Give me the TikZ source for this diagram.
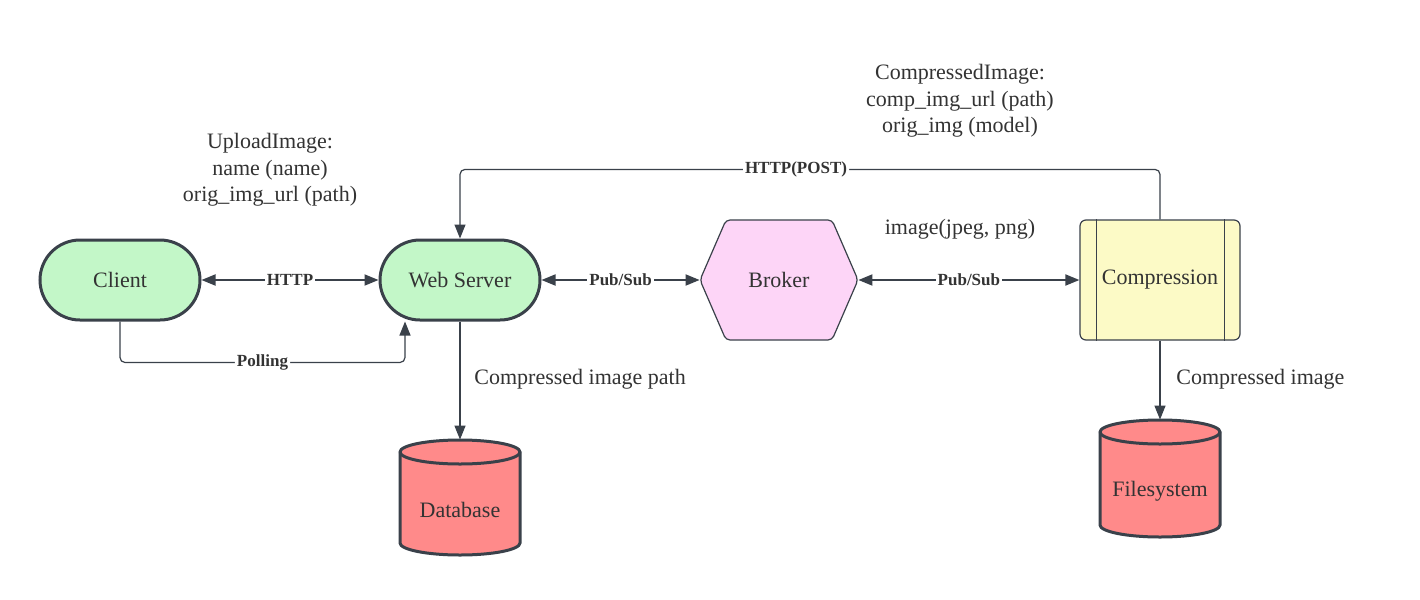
\documentclass[tikz,border=0pt]{standalone}
\usepackage{fontspec}
\setmainfont{Liberation Serif}
\usetikzlibrary{arrows.meta}
\definecolor{ink}{HTML}{3A414A}
\definecolor{txt}{HTML}{333333}
\definecolor{gfill}{HTML}{C3F7C8}
\definecolor{pfill}{HTML}{FDD5F7}
\definecolor{yfill}{HTML}{FCFAC6}
\definecolor{rfill}{HTML}{FF8A8A}
\begin{document}
\begin{tikzpicture}[x=0.5pt,y=-0.5pt,
  txtfont/.style={font=\fontsize{11}{13.25}\selectfont, text=txt},
  stadium/.style={draw=ink, line width=1.5pt, fill=gfill, rounded corners=20pt, minimum width=80pt, minimum height=40pt, txtfont},
  procbox/.style={draw=ink, line width=0.6pt, fill=yfill, rounded corners=3pt, minimum width=80pt, minimum height=60pt, txtfont},
  cylbody/.style={draw=ink, line width=1.5pt, fill=rfill},
  holder/.style={inner sep=0pt, txtfont},
  tip/.tip={Triangle[length=7pt,width=5.5pt]},
  conn/.style={draw=ink, line width=0.6pt, rounded corners=2.5pt, -tip},
  conntwo/.style={draw=ink, line width=0.9pt, tip-tip},
  lab/.style={fill=white, inner sep=1pt, font=\bfseries\fontsize{8.5}{10}\selectfont, text=txt},
  note/.style={txtfont, align=center, inner sep=0pt}
]
\useasboundingbox (0,0) rectangle (1420,600);
\fill[white] (0,0) rectangle (1420,600);

% main nodes
\node[stadium] (client) at (120,280) {Client};
\node[stadium] (web) at (460,280) {Web Server};

\draw[draw=ink, line width=0.6pt, fill=pfill, rounded corners=2pt]
  (700,280) -- (726,220) -- (832,220) -- (858,280) -- (832,340) -- (726,340) -- cycle;
\node[holder, minimum width=79pt, minimum height=60pt] (broker) at (779,280) {Broker};

\node[procbox] (comp) at (1160,280) {Compression};
\draw[draw=ink, line width=0.6pt] ([xshift=8.5pt]comp.north west) -- ([xshift=8.5pt]comp.south west);
\draw[draw=ink, line width=0.6pt] ([xshift=-8pt]comp.north east) -- ([xshift=-8pt]comp.south east);

% Database cylinder
\draw[cylbody] (400,452) -- (400,543) arc[start angle=180,end angle=360,x radius=30pt,y radius=6pt]
  -- (520,452) arc[start angle=0,end angle=180,x radius=30pt,y radius=6pt] -- cycle;
\draw[draw=ink, line width=1.5pt] (400,452) arc[start angle=180,end angle=360,x radius=30pt,y radius=6pt];
\node[holder, minimum width=60pt, minimum height=57.5pt] (db) at (460,497.5)
  {\raisebox{-6pt}[\height][\depth]{Database}};

% Filesystem cylinder
\draw[cylbody] (1100,432) -- (1100,525) arc[start angle=180,end angle=360,x radius=30pt,y radius=6pt]
  -- (1220,432) arc[start angle=0,end angle=180,x radius=30pt,y radius=6pt] -- cycle;
\draw[draw=ink, line width=1.5pt] (1100,432) arc[start angle=180,end angle=360,x radius=30pt,y radius=6pt];
\node[holder, minimum width=60pt, minimum height=58.5pt] (fs) at (1160,478.5)
  {\raisebox{-6.5pt}[\height][\depth]{Filesystem}};

% connectors
\draw[conntwo] (client) -- node[lab]{HTTP} (web);
\draw[conntwo] (web) -- node[lab]{Pub/Sub} (broker);
\draw[conntwo] (broker) -- node[lab]{Pub/Sub} (comp);
\draw[conn] (client.south) -- ++(0,41) -| node[lab,pos=0.25]{Polling} ([xshift=-27.5pt]web.south);
\draw[conn] (comp.north) -- ++(0,-50) -| node[lab,pos=0.26]{HTTP(POST)} (web.north);
\draw[conn] (web.south) -- (db.north);
\draw[conn] (comp.south) -- (fs.north);

% texts
\node[note] (upl) at (270,170) {UploadImage:\\name (name)\\orig\_img\_url (path)};
\node[note] (cmpimg) at (960,101) {CompressedImage:\\comp\_img\_url (path)\\orig\_img (model)};
\node[note] (fmt) at (960,229) {image(jpeg, png)};
\node[note, anchor=west] (pathlbl) at (474,379) {Compressed image path};
\node[note, anchor=west] (imglbl) at (1176,379) {Compressed image};
\end{tikzpicture}
\end{document}
